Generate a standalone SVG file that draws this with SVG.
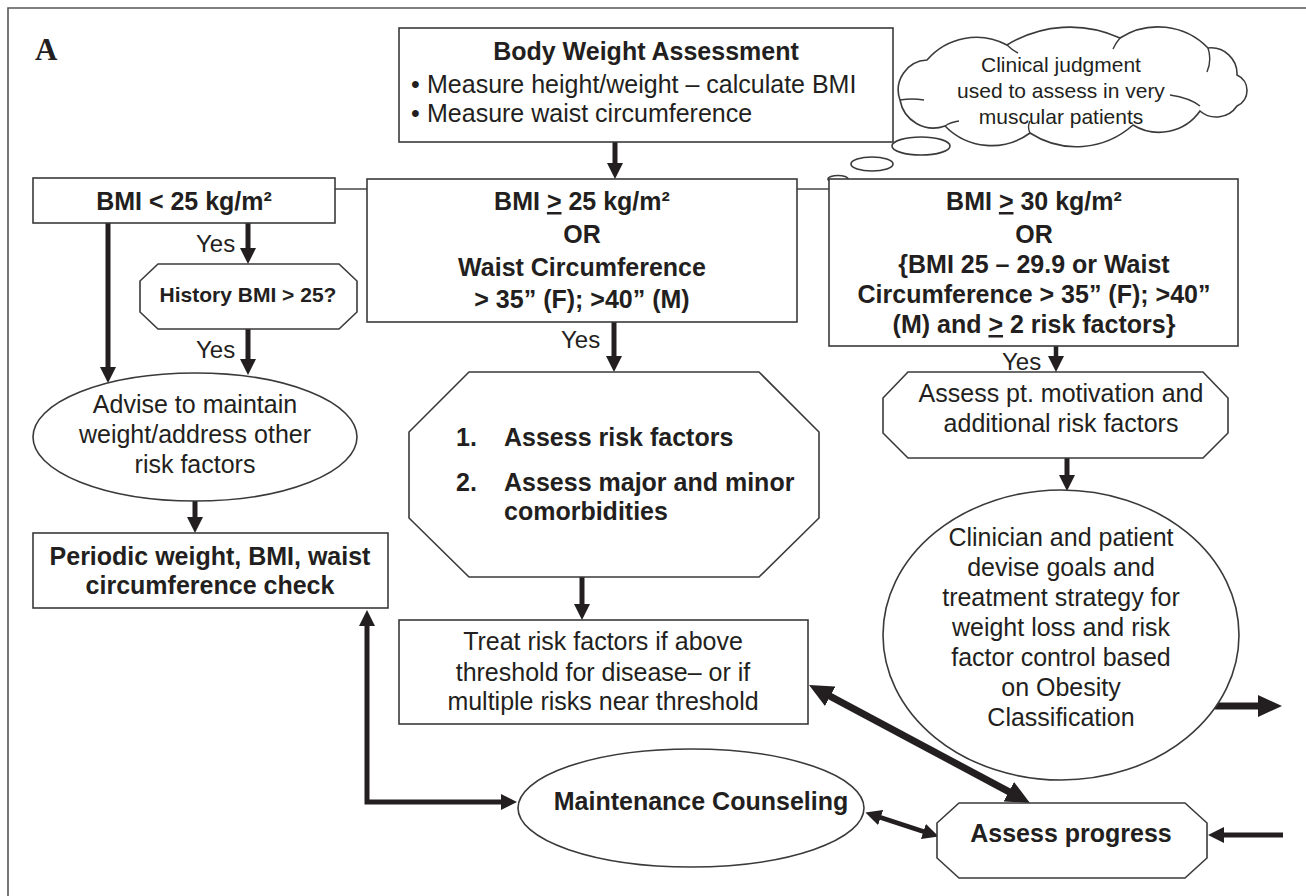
<svg xmlns="http://www.w3.org/2000/svg" width="1306" height="896" viewBox="0 0 1306 896">
<style>
.box{fill:#fff;stroke:#3a3a3a;stroke-width:1.6}
.thin{fill:none;stroke:#3a3a3a;stroke-width:1.4}
.t{font-family:"Liberation Sans",Arial,sans-serif;font-size:25px;fill:#231f20}
.s21{font-size:21px}
.s24{font-size:24px}
.b{font-weight:bold}
.c{text-anchor:middle}
.arr{fill:none;stroke:#231f20;stroke-width:5}
.arrS{fill:none;stroke:#231f20;stroke-width:4.5}
.arrL{fill:none;stroke:#231f20;stroke-width:7}
.u{text-decoration:underline}
</style>
<defs>
<marker id="ah" markerUnits="userSpaceOnUse" markerWidth="16" markerHeight="16" viewBox="0 0 16 16" refX="8" refY="8" orient="auto-start-reverse"><path d="M0,0 L16,8 L0,16 z" fill="#231f20"/></marker>
<marker id="ahL" markerUnits="userSpaceOnUse" markerWidth="24" markerHeight="22" viewBox="0 0 24 22" refX="12" refY="11" orient="auto-start-reverse"><path d="M0,0 L24,11 L0,22 z" fill="#231f20"/></marker>
</defs>
<rect width="1306" height="896" fill="#fff"/>
<path d="M8,896 V8 H1306" fill="none" stroke="#555" stroke-width="1.6"/>
<text x="35" y="60" font-family="'Liberation Serif','Times New Roman',serif" font-weight="bold" font-size="31" fill="#231f20">A</text>

<g id="connectors">
<line class="thin" x1="335" y1="189" x2="367" y2="189"/>
<line class="thin" x1="797" y1="189" x2="829" y2="189"/>
<line class="arr" x1="615" y1="142" x2="615" y2="171" marker-end="url(#ah)"/>
<line class="arr" x1="108" y1="223" x2="108" y2="375" marker-end="url(#ah)"/>
<line class="arr" x1="248" y1="223" x2="248" y2="256" marker-end="url(#ah)"/>
<line class="arr" x1="248" y1="329" x2="248" y2="367" marker-end="url(#ah)"/>
<line class="arr" x1="195" y1="501" x2="195" y2="525" marker-end="url(#ah)"/>
<line class="arr" x1="614" y1="322" x2="614" y2="364" marker-end="url(#ah)"/>
<line class="arr" x1="582" y1="577" x2="582" y2="612" marker-end="url(#ah)"/>
<line class="arrS" x1="1056" y1="346" x2="1056" y2="364" marker-end="url(#ah)"/>
<line class="arr" x1="1067" y1="458" x2="1067" y2="483" marker-end="url(#ah)"/>
<path class="arr" d="M509,802 H367 V618" marker-start="url(#ah)" marker-end="url(#ah)"/>
<line class="arrL" x1="819.6" y1="690.7" x2="1019.4" y2="797.3" marker-start="url(#ahL)" marker-end="url(#ahL)"/>
<line class="arrS" x1="873" y1="815" x2="931" y2="834" marker-start="url(#ah)" marker-end="url(#ah)"/>
<line class="arrL" x1="1215" y1="706" x2="1270" y2="706" marker-end="url(#ahL)"/>
<line class="arr" x1="1283" y1="835" x2="1216" y2="835" marker-end="url(#ah)"/>
</g>

<g id="body-weight">
<rect class="box" x="399" y="28" width="494" height="114"/>
<text class="t b c" x="646" y="60">Body Weight Assessment</text>
<text class="t" x="411" y="93">•</text>
<text class="t" x="427" y="93">Measure height/weight – calculate BMI</text>
<text class="t" x="411" y="122">•</text>
<text class="t" x="427" y="122">Measure waist circumference</text>
</g>

<g id="cloud">
<ellipse class="box" cx="921" cy="146" rx="29" ry="9"/>
<ellipse class="box" cx="872" cy="164" rx="21" ry="7"/>
<ellipse class="box" cx="838" cy="179" rx="10" ry="3.5"/>
<path class="box" d="M900,100 A30,30 0 0 1 927,60 A65,65 0 0 1 1007,45 A120,120 0 0 1 1120,38 A70,70 0 0 1 1208,48 A26,26 0 0 1 1237,75 A17,17 0 0 1 1237,106 A25,25 0 0 1 1200,111 A50,50 0 0 1 1133,125 A85,85 0 0 1 1030,133 A65,65 0 0 1 945,126 A34,34 0 0 1 900,100 Z"/>
<path class="thin" d="M900,100 Q912,98 924,100 M1007,45 Q1012,50 1018,53 M1120,38 Q1115,44 1113,49 M1208,48 Q1212,60 1207,72 M1200,106 Q1190,98 1170,95 M1030,133 Q1027,127 1030,121 M945,126 Q951,122 959,121"/>
<text class="t c s21" x="1061" y="72">Clinical judgment</text>
<text class="t c s21" x="1061" y="98">used to assess in very</text>
<text class="t c s21" x="1061" y="124">muscular patients</text>
</g>

<g id="bmi-lt25">
<rect class="box" x="33" y="178" width="302" height="45"/>
<text class="t b c" x="184" y="210">BMI &lt; 25 kg/m²</text>
</g>

<g id="bmi-ge25">
<rect class="box" x="367" y="179" width="430" height="143"/>
<text class="t b c" x="582" y="210">BMI <tspan class="u">&gt;</tspan> 25 kg/m²</text>
<text class="t b c" x="582" y="243">OR</text>
<text class="t b c" x="582" y="276">Waist Circumference</text>
<text class="t b c" x="582" y="308">&gt; 35” (F); &gt;40” (M)</text>
</g>

<g id="bmi-ge30">
<rect class="box" x="829" y="179" width="409" height="167"/>
<text class="t b c" x="1034" y="210">BMI <tspan class="u">&gt;</tspan> 30 kg/m²</text>
<text class="t b c" x="1034" y="243">OR</text>
<text class="t b c" x="1034" y="273">{BMI 25 – 29.9 or Waist</text>
<text class="t b c" x="1034" y="303">Circumference &gt; 35” (F); &gt;40”</text>
<text class="t b c" x="1034" y="333">(M) and <tspan class="u">&gt;</tspan> 2 risk factors}</text>
</g>

<g id="labels-yes">
<text class="t s24" x="196" y="252">Yes</text>
<text class="t s24" x="196" y="358">Yes</text>
<text class="t s24" x="561" y="348">Yes</text>
<text class="t s24" x="1002" y="370">Yes</text>
</g>

<g id="history">
<polygon class="box" points="158,264 339,264 357,281 357,312 339,329 158,329 140,312 140,281"/>
<text class="t b c s21" x="248" y="302">History BMI &gt; 25?</text>
</g>

<g id="advise">
<ellipse class="box" cx="195" cy="437" rx="162" ry="64"/>
<text class="t c" x="195" y="413">Advise to maintain</text>
<text class="t c" x="195" y="443">weight/address other</text>
<text class="t c" x="195" y="473">risk factors</text>
</g>

<g id="periodic">
<rect class="box" x="33" y="533" width="355" height="75"/>
<text class="t b c" x="210" y="565">Periodic weight, BMI, waist</text>
<text class="t b c" x="210" y="594">circumference check</text>
</g>

<g id="assess-risk">
<polygon class="box" points="469,372 759,372 819,432 819,518 759,577 469,577 409,518 409,432"/>
<text class="t b" x="456" y="446">1.</text>
<text class="t b" x="504" y="446">Assess risk factors</text>
<text class="t b" x="456" y="491">2.</text>
<text class="t b" x="504" y="491">Assess major and minor</text>
<text class="t b" x="504" y="520">comorbidities</text>
</g>

<g id="treat">
<rect class="box" x="399" y="620" width="409" height="104"/>
<text class="t c" x="603" y="650">Treat risk factors if above</text>
<text class="t c" x="603" y="681">threshold for disease– or if</text>
<text class="t c" x="603" y="710">multiple risks near threshold</text>
</g>

<g id="motivation">
<polygon class="box" points="908,372 1203,372 1228,398 1228,433 1203,458 908,458 883,433 883,398"/>
<text class="t c" x="1061" y="402">Assess pt. motivation and</text>
<text class="t c" x="1061" y="432">additional risk factors</text>
</g>

<g id="clinician">
<ellipse class="box" cx="1061" cy="635" rx="178" ry="145"/>
<text class="t c" x="1061" y="546">Clinician and patient</text>
<text class="t c" x="1061" y="576">devise goals and</text>
<text class="t c" x="1061" y="606">treatment strategy for</text>
<text class="t c" x="1061" y="636">weight loss and risk</text>
<text class="t c" x="1061" y="666">factor control based</text>
<text class="t c" x="1061" y="696">on Obesity</text>
<text class="t c" x="1061" y="726">Classification</text>
</g>

<g id="maintenance">
<ellipse class="box" cx="691" cy="808" rx="173" ry="59"/>
<text class="t b c" x="701" y="810">Maintenance Counseling</text>
</g>

<g id="assess-progress">
<polygon class="box" points="959,803 1185,803 1207,823 1207,858 1185,878 959,878 937,858 937,823"/>
<text class="t b c" x="1071" y="842">Assess progress</text>
</g>
</svg>
